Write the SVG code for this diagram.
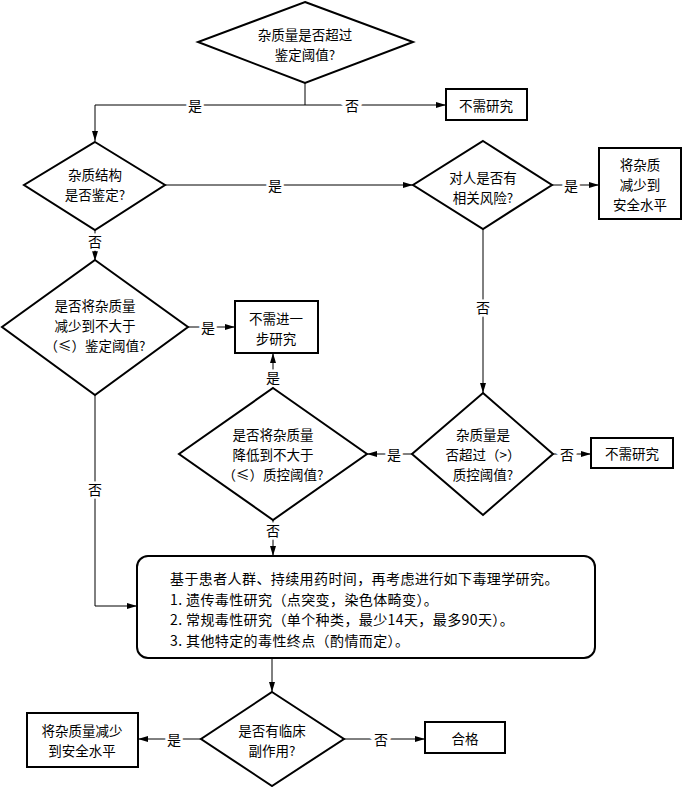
<svg xmlns="http://www.w3.org/2000/svg" width="683" height="787" viewBox="0 0 683 787">
<defs>
<marker id="ah" viewBox="0 0 10 6" refX="10" refY="3" markerWidth="10" markerHeight="6" markerUnits="userSpaceOnUse" orient="auto">
<path d="M0,0 L10,3 L0,6 Z" fill="#000"/>
</marker>
<style>
.shape{fill:#fff;stroke:#000;stroke-width:2}
.t{font-family:"Noto Sans CJK SC","Noto Sans",sans-serif;font-size:13.5px;fill:#000;text-anchor:middle;dominant-baseline:central}
.tl{font-family:"Noto Sans CJK SC","Noto Sans",sans-serif;font-size:14px;letter-spacing:0.4px;fill:#000;dominant-baseline:central}
.c{fill:none;stroke:#000;stroke-width:1}
.lbl{font-family:"Noto Sans CJK SC","Noto Sans",sans-serif;font-size:14px;fill:#000;text-anchor:middle;dominant-baseline:central;stroke:#fff;stroke-width:5;paint-order:stroke}
</style>
</defs>
<rect width="683" height="787" fill="#fff"/>
<g id="connectors">
<path class="c" d="M305,83 V105"/>
<path class="c" d="M305,105 H95 V141" marker-end="url(#ah)"/>
<path class="c" d="M305,105 H446" marker-end="url(#ah)"/>
<path class="c" d="M165,185 H413" marker-end="url(#ah)"/>
<path class="c" d="M552,185 H599" marker-end="url(#ah)"/>
<path class="c" d="M95,230 V261" marker-end="url(#ah)"/>
<path class="c" d="M188,327 H235" marker-end="url(#ah)"/>
<path class="c" d="M483,229 V393" marker-end="url(#ah)"/>
<path class="c" d="M273,388 V353" marker-end="url(#ah)"/>
<path class="c" d="M412,454 H367" marker-end="url(#ah)"/>
<path class="c" d="M553,454 H591" marker-end="url(#ah)"/>
<path class="c" d="M95,394 V606 H137" marker-end="url(#ah)"/>
<path class="c" d="M273,520 V556" marker-end="url(#ah)"/>
<path class="c" d="M272,658 V692" marker-end="url(#ah)"/>
<path class="c" d="M201,739 H138" marker-end="url(#ah)"/>
<path class="c" d="M344,739 H425" marker-end="url(#ah)"/>
<text class="lbl" x="195" y="105">是</text>
<text class="lbl" x="352" y="105">否</text>
<text class="lbl" x="275" y="185">是</text>
<text class="lbl" x="571" y="185">是</text>
<text class="lbl" x="95" y="241">否</text>
<text class="lbl" x="208" y="327">是</text>
<text class="lbl" x="483" y="307">否</text>
<text class="lbl" x="273" y="377">是</text>
<text class="lbl" x="394" y="454">是</text>
<text class="lbl" x="567" y="454">否</text>
<text class="lbl" x="95" y="489">否</text>
<text class="lbl" x="273" y="530">否</text>
<text class="lbl" x="174" y="739">是</text>
<text class="lbl" x="381" y="739">否</text>
</g>
<g id="d1">
<polygon class="shape" points="305,2 413,42 305,83 198,42"/>
<text class="t" x="305" y="34">杂质量是否超过</text>
<text class="t" x="305" y="54">鉴定阈值?</text>
</g>
<g id="b1">
<rect class="shape" x="446" y="89" width="81" height="31"/>
<text class="t" x="486" y="105">不需研究</text>
</g>
<g id="d2">
<polygon class="shape" points="95,142 165,185 95,230 24,185"/>
<text class="t" x="95" y="174">杂质结构</text>
<text class="t" x="95" y="194">是否鉴定?</text>
</g>
<g id="d3">
<polygon class="shape" points="483,141 552,185 483,229 413,185"/>
<text class="t" x="483" y="177">对人是否有</text>
<text class="t" x="483" y="197">相关风险?</text>
</g>
<g id="b2">
<rect class="shape" x="599" y="148" width="82" height="71"/>
<text class="t" x="640" y="164">将杂质</text>
<text class="t" x="640" y="184">减少到</text>
<text class="t" x="640" y="204">安全水平</text>
</g>
<g id="d4">
<polygon class="shape" points="95,260 188,327 95,395 2,327"/>
<text class="t" x="95" y="305">是否将杂质量</text>
<text class="t" x="95" y="325">减少到不大于</text>
<text class="t" x="95" y="345">（≤）鉴定阈值?</text>
</g>
<g id="b3">
<rect class="shape" x="235" y="301" width="83" height="52"/>
<text class="t" x="276" y="318">不需进一</text>
<text class="t" x="276" y="338">步研究</text>
</g>
<g id="d5">
<polygon class="shape" points="273,388 367,454 273,520 179,454"/>
<text class="t" x="273" y="434">是否将杂质量</text>
<text class="t" x="273" y="454">降低到不大于</text>
<text class="t" x="273" y="474">（≤）质控阈值?</text>
</g>
<g id="d6">
<polygon class="shape" points="483,393 553,454 483,515 412,454"/>
<text class="t" x="483" y="434">杂质量是</text>
<text class="t" x="483" y="454">否超过（&gt;）</text>
<text class="t" x="483" y="474">质控阈值?</text>
</g>
<g id="b4">
<rect class="shape" x="591" y="438" width="82" height="30"/>
<text class="t" x="632" y="453">不需研究</text>
</g>
<g id="r1">
<rect class="shape" x="137" y="556" width="458" height="102" rx="11"/>
<text class="tl" x="170" y="578">基于患者人群、持续用药时间，再考虑进行如下毒理学研究。</text>
<text class="tl" x="170" y="598.5">1. 遗传毒性研究（点突变，染色体畸变）。</text>
<text class="tl" x="170" y="619">2. 常规毒性研究（单个种类，最少14天，最多90天）。</text>
<text class="tl" x="170" y="639.5">3. 其他特定的毒性终点（酌情而定）。</text>
</g>
<g id="d7">
<polygon class="shape" points="272,692 344,739 272,786 201,739"/>
<text class="t" x="272" y="730">是否有临床</text>
<text class="t" x="272" y="750">副作用?</text>
</g>
<g id="b5">
<rect class="shape" x="27" y="713" width="111" height="54"/>
<text class="t" x="82" y="730">将杂质量减少</text>
<text class="t" x="82" y="750">到安全水平</text>
</g>
<g id="b6">
<rect class="shape" x="425" y="722" width="80" height="31"/>
<text class="t" x="465" y="738">合格</text>
</g>
</svg>
